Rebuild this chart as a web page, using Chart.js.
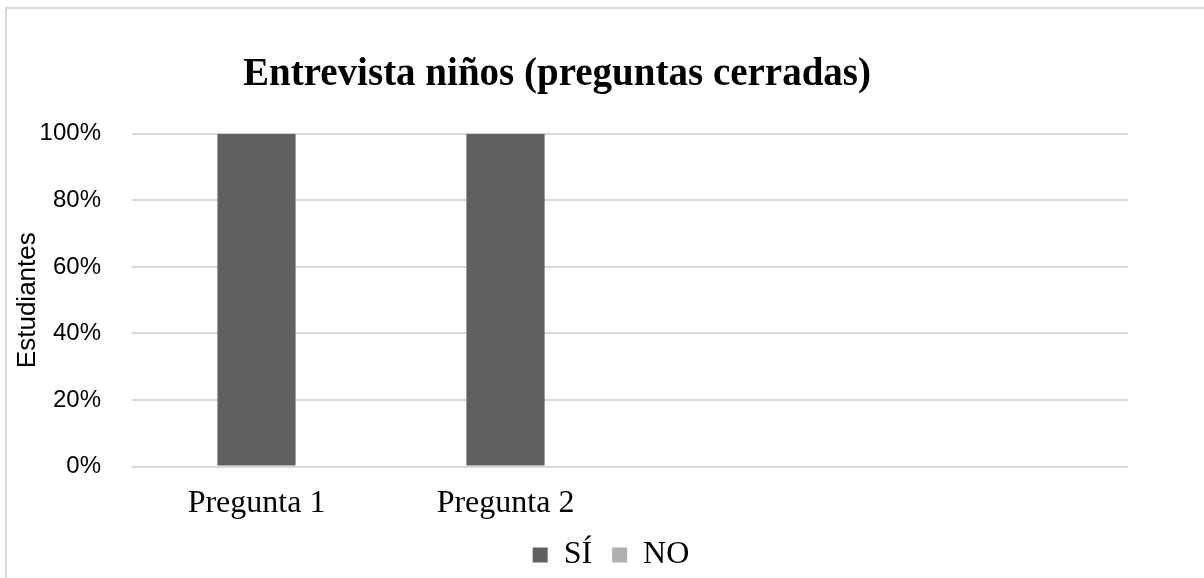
<!DOCTYPE html>
<html>
<head>
<meta charset="utf-8">
<script src="https://cdn.jsdelivr.net/npm/chart.js@4"></script>
<style>
  html, body { margin: 0; padding: 0; background: #fff; }
  #wrap { position: relative; width: 1204px; height: 578px; overflow: hidden; }
  #frame { position: absolute; left: 5px; top: 7px; width: 1300px; height: 700px; border-left: 2px solid #d9d9d9; border-top: 2px solid #d9d9d9; }
  canvas { position: absolute; left: 0; top: 0; }
</style>
</head>
<body>
<div id="wrap">
  <div id="frame"></div>
  <canvas id="c" width="1204" height="578"></canvas>
</div>
<script>
const titleText = 'Entrevista niños (preguntas cerradas)';
const yAxisTitle = 'Estudiantes';
const categories = ['Pregunta 1', 'Pregunta 2', '', ''];
const seriesNames = ['SÍ', 'NO'];
const siValues = [100, 100, null, null];
const noValues = [0, 0, null, null];
const yTicks = [0, 20, 40, 60, 80, 100];

const shiftPlugin = {
  id: 'shiftBlocks',
  afterLayout(chart) {
    if (chart.titleBlock) { chart.titleBlock.left -= 13; chart.titleBlock.right -= 13; }
    if (chart.legend) {
      chart.legend.left += 41; chart.legend.right += 41;
      chart.legend.top -= 14; chart.legend.bottom -= 14;
    }
  }
};

new Chart(document.getElementById('c'), {
  type: 'bar',
  data: {
    labels: categories,
    datasets: [
      { label: seriesNames[0], data: siValues, backgroundColor: '#606060' },
      { label: seriesNames[1], data: noValues, backgroundColor: '#b0b0b0' }
    ]
  },
  plugins: [shiftPlugin],
  options: {
    responsive: false,
    animation: false,
    layout: { padding: { left: 12, right: 76, top: 0, bottom: -17 } },
    datasets: { bar: { categoryPercentage: 1.0, barPercentage: 0.314 } },
    plugins: {
      title: {
        display: true,
        text: titleText,
        color: '#000',
        font: { family: '"Liberation Serif", "Times New Roman", serif', size: 39, weight: 'bold' },
        padding: { top: 52, bottom: 35 }
      },
      legend: {
        display: true,
        position: 'bottom',
        labels: {
          color: '#000',
          boxWidth: 15,
          boxHeight: 15,
          padding: 20,
          font: { family: '"Liberation Serif", "Times New Roman", serif', size: 32 }
        }
      },
      tooltip: { enabled: false }
    },
    scales: {
      x: {
        stacked: true,
        grid: { display: false },
        border: { display: false },
        ticks: {
          color: '#000',
          padding: 10,
          maxRotation: 0,
          font: { family: '"Liberation Serif", "Times New Roman", serif', size: 32 }
        }
      },
      y: {
        stacked: true,
        min: 0,
        max: 100,
        afterBuildTicks(axis) { axis.ticks = yTicks.map(v => ({ value: v })); },
        afterFit(axis) { axis.width = 120; },
        grid: { color: '#d9d9d9', lineWidth: 2, drawTicks: false },
        border: { display: false },
        ticks: {
          color: '#000',
          padding: 31,
          callback: v => v + '%',
          font: { family: '"Liberation Sans", Arial, sans-serif', size: 24 }
        },
        title: {
          display: true,
          text: yAxisTitle,
          color: '#000',
          padding: { top: 0, bottom: 0 },
          font: { family: '"Liberation Sans", Arial, sans-serif', size: 26 }
        }
      }
    }
  }
});
</script>
</body>
</html>
